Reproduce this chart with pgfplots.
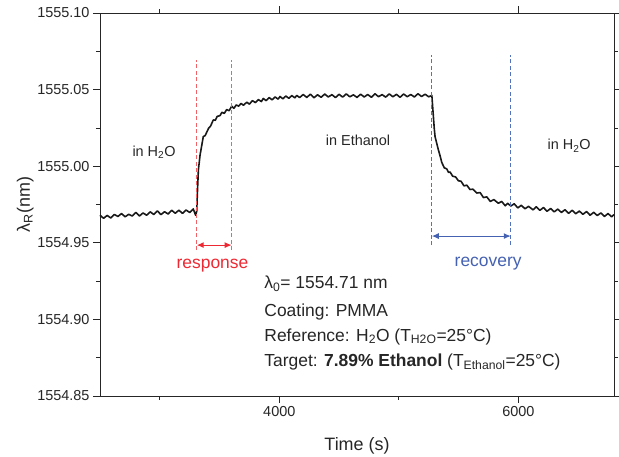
\documentclass[border=0pt]{standalone}
\usepackage{fontspec}
\setmainfont{Liberation Sans}
\usepackage{pgfplots}
\usepackage{pgfplotstable}
\pgfplotsset{compat=1.18}
\usetikzlibrary{arrows.meta}
\definecolor{txt}{rgb}{0.15,0.15,0.15}
\definecolor{resp}{rgb}{0.93,0.16,0.20}
\definecolor{respd}{rgb}{0.95,0.38,0.40}
\definecolor{reco}{rgb}{0.27,0.38,0.70}
\definecolor{recod}{rgb}{0.33,0.45,0.75}
\pgfplotstableread{
t lambda
2500 1554.9680
2530 1554.9660
2560 1554.9679
2590 1554.9662
2620 1554.9685
2650 1554.9672
2680 1554.9691
2710 1554.9670
2740 1554.9686
2770 1554.9675
2800 1554.9698
2830 1554.9675
2860 1554.9695
2890 1554.9680
2920 1554.9702
2950 1554.9685
2980 1554.9708
3010 1554.9684
3040 1554.9703
3070 1554.9688
3100 1554.9712
3130 1554.9693
3160 1554.9713
3190 1554.9692
3220 1554.9714
3250 1554.9698
3280 1554.9721
3300 1554.9680
3309 1554.9705
3316 1554.9850
3323 1554.9975
3337 1555.0072
3350 1555.0130
3364 1555.0193
3380 1555.0200
3393 1555.0222
3410 1555.0250
3425 1555.0262
3448 1555.0302
3465 1555.0300
3480 1555.0325
3504 1555.0330
3520 1555.0352
3540 1555.0345
3560 1555.0370
3580 1555.0362
3602 1555.0392
3620 1555.0378
3640 1555.0400
3660 1555.0392
3680 1555.0410
3700 1555.0398
3728 1555.0418
3750 1555.0405
3775 1555.0428
3800 1555.0415
3825 1555.0435
3850 1555.0422
3866 1555.0442
3890 1555.0428
3915 1555.0448
3940 1555.0433
3965 1555.0452
3990 1555.0438
4006 1555.0455
4030 1555.0440
4055 1555.0458
4080 1555.0443
4105 1555.0461
4130 1555.0446
4146 1555.0462
4170 1555.0448
4200 1555.0468
4230 1555.0449
4260 1555.0470
4290 1555.0447
4320 1555.0466
4350 1555.0450
4380 1555.0471
4410 1555.0452
4440 1555.0467
4470 1555.0448
4500 1555.0469
4530 1555.0451
4560 1555.0472
4590 1555.0453
4620 1555.0466
4650 1555.0449
4680 1555.0470
4710 1555.0452
4740 1555.0468
4770 1555.0450
4800 1555.0473
4830 1555.0454
4860 1555.0467
4890 1555.0451
4920 1555.0472
4950 1555.0453
4980 1555.0469
5010 1555.0450
5040 1555.0471
5070 1555.0454
5100 1555.0468
5130 1555.0452
5160 1555.0473
5190 1555.0455
5220 1555.0470
5250 1555.0453
5276 1555.0462
5282 1555.0400
5289 1555.0324
5296 1555.0250
5303 1555.0193
5317 1555.0150
5331 1555.0106
5345 1555.0068
5359 1555.0025
5380 1554.9990
5401 1554.9982
5415 1554.9960
5429 1554.9962
5450 1554.9935
5475 1554.9930
5498 1554.9905
5520 1554.9902
5545 1554.9872
5569 1554.9876
5595 1554.9848
5620 1554.9850
5652 1554.9825
5680 1554.9828
5708 1554.9795
5736 1554.9800
5765 1554.9770
5795 1554.9782
5833 1554.9758
5860 1554.9770
5890 1554.9742
5910 1554.9758
5937 1554.9740
5965 1554.9755
5995 1554.9728
6025 1554.9745
6055 1554.9722
6085 1554.9738
6123 1554.9715
6150 1554.9735
6180 1554.9712
6210 1554.9730
6240 1554.9706
6270 1554.9724
6300 1554.9702
6330 1554.9720
6360 1554.9698
6390 1554.9716
6420 1554.9692
6450 1554.9712
6480 1554.9690
6510 1554.9707
6540 1554.9686
6570 1554.9704
6600 1554.9680
6630 1554.9699
6660 1554.9678
6690 1554.9695
6720 1554.9672
6750 1554.9691
6780 1554.9670
6800 1554.9684
}\datatable
\begin{document}
\begin{tikzpicture}
\path[use as bounding box] (-100bp,-61bp) rectangle (519bp,396bp);
\begin{axis}[
  scale only axis, width=514bp, height=383bp,
  xmin=2500, xmax=6800, ymin=1554.85, ymax=1555.10,
  xtick={4000,6000}, minor xtick={3000,5000},
  ytick={1554.85,1554.90,1554.95,1555.00,1555.05,1555.10},
  minor ytick={1554.875,1554.925,1554.975,1555.025,1555.075},
  tick align=outside, major tick length=7bp, minor tick length=4bp,
  tick style={txt, line width=0.8bp},
  axis line style={txt, line width=0.9bp},
  /pgf/number format/assume math mode=true,
  xticklabel style={/pgf/number format/.cd, fixed, 1000 sep={}},
  yticklabel style={/pgf/number format/.cd, fixed, fixed zerofill, precision=2, 1000 sep={}},
  tick label style={font=\fontsize{14.5}{17}\selectfont, text=txt},
  xlabel={Time (s)}, ylabel={λ\textsubscript{R}(nm)},
  label style={font=\fontsize{18}{20}\selectfont, text=txt},
  xlabel style={at={(axis description cs:0.5,0)}, anchor=base, yshift=-54bp},
  ylabel style={at={(axis description cs:-0.1362,0.5)}, anchor=base},
  clip=false,
]
\addplot[black!90, line width=1.6bp, line join=round] table[x=t, y=lambda] {\datatable};
\addplot[respd, dash pattern=on 4bp off 2.5bp, line width=1.1bp] coordinates {(3309,1554.9452) (3309,1555.0693)};
\addplot[respd, dash pattern=on 4bp off 2.5bp, line width=1.1bp] coordinates {(3602,1554.9452) (3602,1555.0693)};
\addplot[recod, dash pattern=on 4bp off 2.5bp, line width=1.1bp] coordinates {(5276,1554.9485) (5276,1555.0727)};
\addplot[recod, dash pattern=on 4bp off 2.5bp, line width=1.1bp] coordinates {(5937,1554.9485) (5937,1555.0727)};
\draw[{Latex[length=7bp,width=6bp]}-{Latex[length=7bp,width=6bp]}, resp, line width=1.1bp] (axis cs:3309,1554.9485) -- (axis cs:3602,1554.9485);
\draw[{Latex[length=7bp,width=6bp]}-{Latex[length=7bp,width=6bp]}, reco, line width=1.1bp] (axis cs:5276,1554.9544) -- (axis cs:5937,1554.9544);
\node[anchor=base, text=resp, font=\fontsize{17.5}{20}\selectfont] at (axis cs:3441,1554.9334) {response};
\node[anchor=base, text=reco, font=\fontsize{17.5}{20}\selectfont] at (axis cs:5747,1554.9343) {recovery};
\node[anchor=base, text=txt, font=\fontsize{14.5}{17}\selectfont] at (axis cs:2952,1555.0062) {in H\textsubscript{2}O};
\node[anchor=base, text=txt, font=\fontsize{14.5}{17}\selectfont] at (axis cs:4659,1555.0132) {in Ethanol};
\node[anchor=base, text=txt, font=\fontsize{14.5}{17}\selectfont] at (axis cs:6425,1555.0106) {in H\textsubscript{2}O};
\begin{scope}[every node/.style={anchor=base west, text=txt, inner sep=0pt, font=\fontsize{17.5}{20}\selectfont}]
\node at (axis cs:3874,1554.9202) {λ\textsubscript{0}= 1554.71 nm};
\node at (axis cs:3874,1554.9016) {Coating: PMMA};
\node at (axis cs:3874,1554.8858) {Reference: H\textsubscript{2}O (T\textsubscript{H2O}=25°C)};
\node at (axis cs:3874,1554.8694) {Target: \textbf{7.89\% Ethanol} (T\textsubscript{Ethanol}=25°C)};
\end{scope}
\end{axis}
\end{tikzpicture}
\end{document}
